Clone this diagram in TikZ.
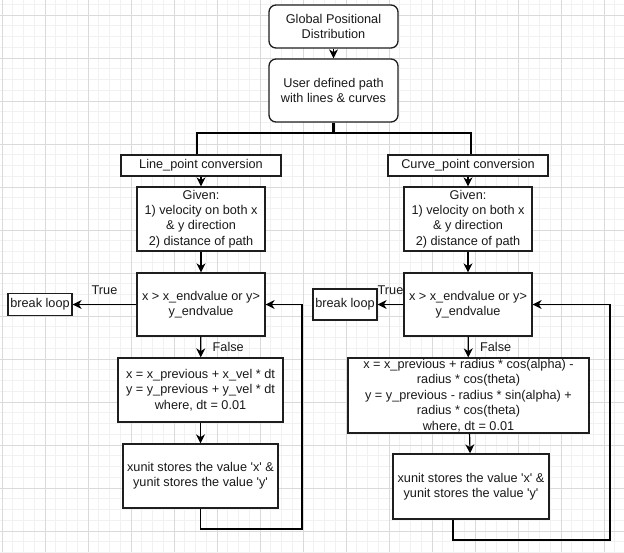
\documentclass[tikz,border=0pt]{standalone}
\usepackage{fontspec}
\setmainfont{Liberation Sans}
\usetikzlibrary{arrows.meta, positioning, calc}
\definecolor{gridminor}{RGB}{241,241,241}
\definecolor{gridmajor}{RGB}{218,218,218}
\definecolor{boxline}{RGB}{30,30,30}
\newcommand{\sq}{\textquotesingle}

\begin{document}
\begin{tikzpicture}[x=1pt, y=-1pt,
    every node/.style={font=\fontsize{12.7}{15.4}\selectfont, text=black!90},
    box/.style={draw=boxline, line width=1.3pt, inner sep=0pt, align=center, fill=white},
    rbox/.style={box, rounded corners=7pt},
    flow/.style={draw=black, line width=1.2pt, -{Stealth[length=9pt, width=9pt, inset=2.8pt]}},
    trunk/.style={draw=black, line width=2.2pt}]
    \useasboundingbox (0,0) rectangle (624,552);

    % background grid
    \foreach \i in {0,...,57} \draw[gridminor, line width=0.8pt] ({2+\i*10.75},0) -- ({2+\i*10.75},552);
    \foreach \i in {0,...,51} \draw[gridminor, line width=0.8pt] (0,{4.25+\i*10.75}) -- (624,{4.25+\i*10.75});
    \foreach \i in {0,...,14} \draw[gridmajor, line width=0.8pt] ({2+\i*43},0) -- ({2+\i*43},552);
    \foreach \i in {0,...,12} \draw[gridmajor, line width=0.8pt] (0,{15+\i*43}) -- (624,{15+\i*43});

    % top
    \node[rbox, minimum width=129, minimum height=43] (gpd) at (333.5,26.5) {Global Positional\\Distribution};
    \node[rbox, minimum width=129, minimum height=63] (udp) at (333.5,90.5) {User defined path\\with lines \& curves};

    % line branch
    \node[box, minimum width=160, minimum height=21] (lpc) at (201,165.5) {Line\_point conversion};
    \node[box, minimum width=128, minimum height=64] (lgiven) at (201,219) {Given:\\1) velocity on both x\\\& y direction\\2) distance of path};
    \node[box, minimum width=128, minimum height=63] (ldec) at (201,304.5) {x > x\_endvalue or y>\\y\_endvalue};
    \node[box, minimum width=64, minimum height=22] (lbreak) at (40,304.5) {break loop};
    \node[box, minimum width=165, minimum height=64] (lcalc) at (200.5,390) {x = x\_previous + x\_vel * dt\\y = y\_previous + y\_vel * dt\\where, dt = 0.01};
    \node[box, minimum width=155, minimum height=64] (lstore) at (200.5,476) {xunit stores the value \sq x\sq\ \&\\yunit stores the value \sq y\sq};

    % curve branch
    \node[box, minimum width=160, minimum height=21] (cpc) at (468,165.5) {Curve\_point conversion};
    \node[box, minimum width=128, minimum height=64] (rgiven) at (468,219) {Given:\\1) velocity on both x\\\& y direction\\2) distance of path};
    \node[box, minimum width=128, minimum height=63] (rdec) at (468,304.5) {x > x\_endvalue or y>\\y\_endvalue};
    \node[box, minimum width=64, minimum height=31] (rbreak) at (345,304.5) {break loop};
    \node[box, minimum width=241, minimum height=75] (rcalc) at (468.5,395.5) {x = x\_previous + radius * cos(alpha) -\\radius * cos(theta)\\y = y\_previous - radius * sin(alpha) +\\radius * cos(theta)\\where, dt = 0.01};
    \node[box, minimum width=156, minimum height=65] (rstore) at (471,486.5) {xunit stores the value \sq x\sq\ \&\\yunit stores the value \sq y\sq};

    % connectors
    \coordinate (tl) at (197,133);
    \coordinate (tr) at (471,133);
    \coordinate (lloop) at (302,529);
    \coordinate (rout) at ($(rstore.south)+(-18,0)$);
    \coordinate (rloop) at (610,540);

    \draw[flow] (gpd) -- (udp);
    \draw[trunk] (udp.south) -- (udp.south |- tl);
    \draw[trunk, line join=miter] (lpc.north -| tl) -- (tl) -- (tr) -- (cpc.north -| tr);

    \draw[flow] (lpc) -- (lgiven);
    \draw[flow] (lgiven) -- (ldec);
    \draw[flow] (ldec) -- node[midway, above=6pt] {True} (lbreak);
    \draw[flow] (ldec) -- node[midway, right=8pt] {False} (lcalc);
    \draw[flow] (lcalc) -- (lstore);
    \draw[flow] (lstore.south) |- (lloop) |- (ldec.east);

    \draw[flow] (cpc) -- (rgiven);
    \draw[flow] (rgiven) -- (rdec);
    \draw[flow] (rdec) -- node[midway, above=6pt] {True} (rbreak);
    \draw[flow] (rdec) -- node[midway, right=8pt] {False} (rcalc);
    \draw[flow] (rcalc) -- (rstore);
    \draw[flow] (rout) |- (rloop) |- (rdec.east);
\end{tikzpicture}
\end{document}
